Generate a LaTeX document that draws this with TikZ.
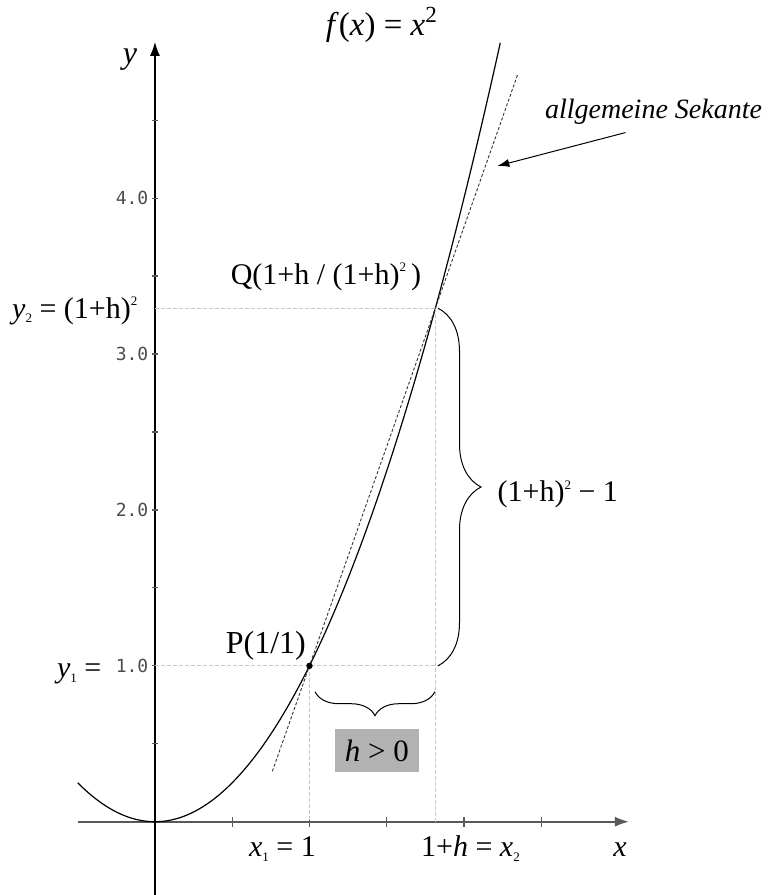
\documentclass[tikz,border=0pt]{standalone}
\usepackage{fontspec}
\setmainfont{Liberation Serif}
\newfontfamily\tickfont{DejaVu Sans Mono}
\usetikzlibrary{arrows.meta,decorations.pathreplacing}

\newcommand{\subidx}[1]{\raisebox{-0.35ex}{\fontsize{6.5}{7}\selectfont#1}}
\newcommand{\supidx}[1]{\raisebox{0.9ex}{\fontsize{6.5}{7}\selectfont#1}}

\tikzset{
  helpline/.style={gray!45,line width=0.4pt,dash pattern=on 2pt off 1pt},
  secline/.style={black!80,line width=0.45pt,dash pattern=on 1.5pt off 1pt},
  ticklabel/.style={font=\tickfont\fontsize{9}{9}\selectfont,text=black!70,anchor=east,inner sep=0pt},
  bracedeco/.style={decorate,decoration={brace,amplitude=#1},line width=0.5pt},
}

\begin{document}
\begin{tikzpicture}[x=77.25pt,y=77.95pt,line width=0.6pt,font=\fontsize{15}{15}\selectfont,inner sep=0pt]
  \useasboundingbox (-1.003,-0.470) rectangle (3.974,5.271);

  % Achsen
  \draw[black!65,line width=0.9pt,-{Latex[length=7pt,width=5pt]}] (-0.5,0) -- (3.068,0);
  \draw[line width=0.8pt,-{Latex[length=7pt,width=5pt]}] (0,-0.47) -- (0,5.003);
  \foreach \t in {0.5,1,1.5,2,2.5}
    \draw[black!65] (\t,-2.5pt) -- (\t,2.5pt);
  \foreach \t in {0.5,1,...,4.5}
    \draw[black!65] (-1.5pt,\t) -- (1.5pt,\t);
  \foreach \t in {1,2,3,4}
    \node[ticklabel] (tick\t) at (-0.039,\t) {\t.0};
  \node[anchor=base] (xlab) at (3.01,-0.226) {\textit{x}};
  \node[font=\fontsize{16}{16}\selectfont] (ylab) at (-0.162,4.891) {\textit{y}};

  % f(x) = x^2
  \draw[domain=-0.5:2.236,smooth,samples=80] plot (\x,{\x*\x});
  \node[anchor=base,font=\fontsize{16.5}{16.5}\selectfont] (flab) at (1.469,5.046)
    {\textit{f}(\textit{x}) = \textit{x}\textsuperscript{2}};

  % P(1/1), Q(1+h/(1+h)^2) mit h = 0.815
  \coordinate (P) at (1,1);
  \coordinate (Q) at (1.815,3.294);
  \draw[helpline] (0,1) -- (1.845,1);
  \draw[helpline] (0,3.294) -- (Q);
  \draw[helpline] (P) -- (1,0);
  \draw[helpline] (Q) -- (1.815,0);

  % Sekante durch P und Q
  \coordinate (S1) at (0.76,0.324);
  \coordinate (S2) at (2.35,4.800);
  \draw[secline] (S1) -- (S2);
  \fill (P) circle (1.6pt);

  \node[anchor=base,font=\fontsize{14}{14}\selectfont] (sek) at (3.227,4.514) {\textit{allgemeine Sekante}};
  \coordinate (sectip) at (2.216,4.206);
  \draw[line width=0.5pt,-{Latex[length=6pt,width=4pt]}] ([xshift=-14pt,yshift=-4pt]sek.south) -- (sectip);

  \node[anchor=base] (Qlab) at (1.107,3.449) {Q(1+h / (1+h)\supidx{2}\,)};
  \node[anchor=base east] (y2lab) at (-0.11,3.231) {\textit{y}\subidx{2} = (1+h)\supidx{2}};
  \node[anchor=base,font=\fontsize{16}{16}\selectfont] (Plab) at (0.718,1.076) {P(1/1)};
  \node[anchor=base east] (y1lab) at (-0.343,0.922) {\textit{y}\subidx{1} =};
  \node[anchor=base] (x1lab) at (0.825,-0.226) {\textit{x}\subidx{1} = 1};
  \node[anchor=base] (x2lab) at (2.042,-0.226) {1+\textit{h} = \textit{x}\subidx{2}};

  % Klammern
  \draw[bracedeco=21.5pt] (1.832,3.294) -- (1.832,1);
  \node[anchor=base west] (dylab) at (2.214,2.051) {(1+h)\supidx{2} − 1};
  \draw[bracedeco=12pt] (1.812,0.834) -- (1.036,0.834);
  \node[fill=gray!60,minimum width=42pt,minimum height=21.5pt,font=\fontsize{15.5}{15.5}\selectfont] (hbox) at (1.437,0.457)
    {\textit{h} > 0};
\end{tikzpicture}
\end{document}
